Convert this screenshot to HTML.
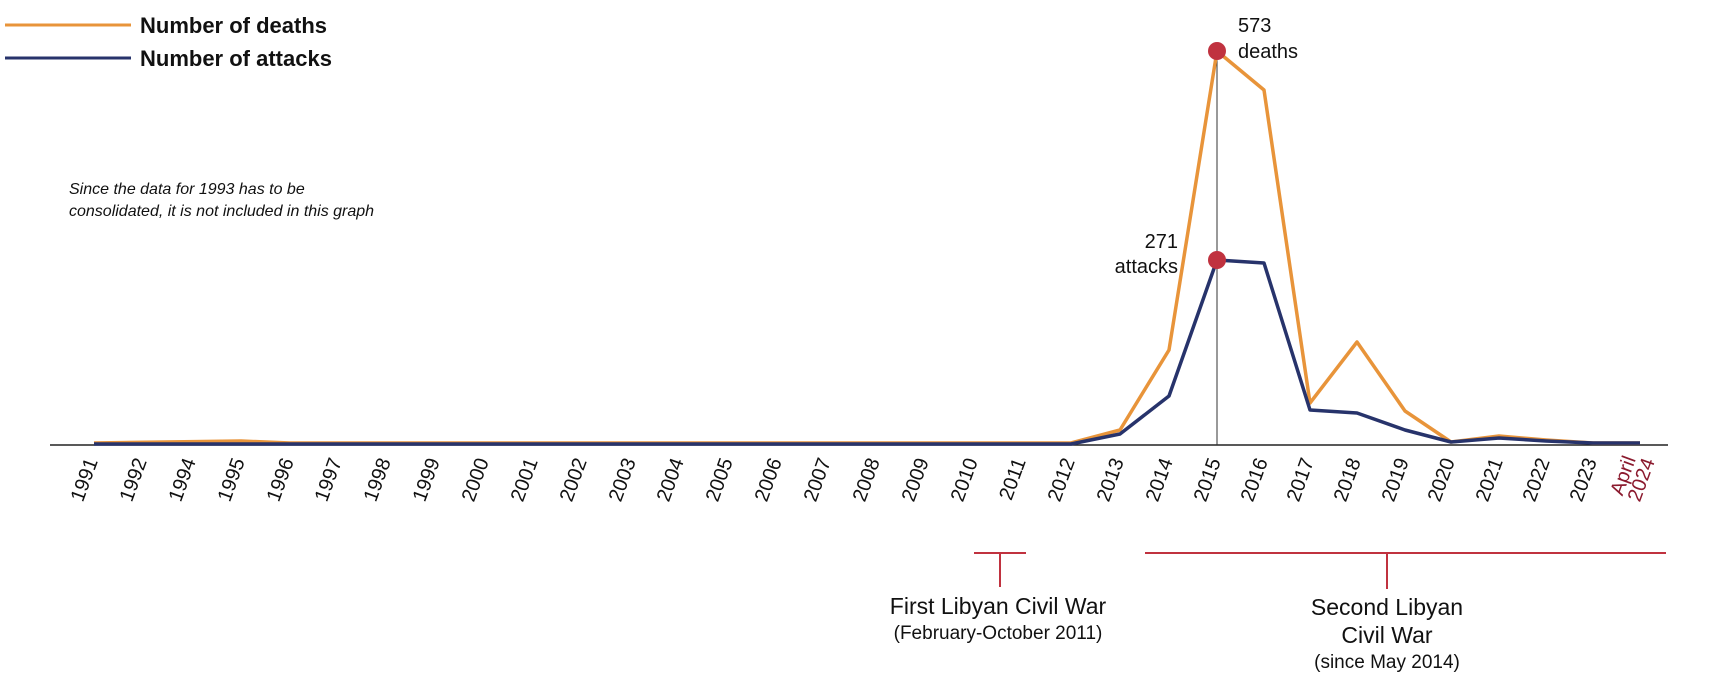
<!DOCTYPE html>
<html><head><meta charset="utf-8"><style>
html,body{margin:0;padding:0;background:#fff;}
svg{display:block;font-family:"Liberation Sans",sans-serif;}
</style></head><body>
<svg width="1710" height="690" viewBox="0 0 1710 690">
<!-- legend -->
<line x1="5" y1="25" x2="131" y2="25" stroke="#e8943a" stroke-width="3"/>
<line x1="5" y1="58" x2="131" y2="58" stroke="#27336b" stroke-width="3"/>
<text x="140" y="33" font-size="22" font-weight="bold" fill="#111">Number of deaths</text>
<text x="140" y="66" font-size="22" font-weight="bold" fill="#111">Number of attacks</text>
<text x="69" y="194" font-size="16" font-style="italic" fill="#111">Since the data for 1993 has to be</text>
<text x="69" y="216" font-size="16" font-style="italic" fill="#111">consolidated, it is not included in this graph</text>
<!-- axis -->
<line x1="50" y1="445" x2="1668" y2="445" stroke="#222" stroke-width="1.5"/>
<line x1="1217" y1="51" x2="1217" y2="445" stroke="#333" stroke-width="1"/>
<!-- series -->
<polyline fill="none" stroke="#e8943a" stroke-width="3.5" stroke-linejoin="round"
points="94,443 241,441 290,443 1071,443 1120,430 1169,350 1217,51 1264,90 1310,403 1357,342 1405,411 1451,442 1499,436 1546,440 1593,443 1640,443"/>
<polyline fill="none" stroke="#27336b" stroke-width="3.5" stroke-linejoin="round"
points="94,444 1071,444 1120,434 1169,396 1217,260 1264,263 1310,410 1357,413 1405,430 1451,442 1499,438 1546,441 1593,443 1640,443"/>
<circle cx="1217" cy="51" r="9" fill="#c0323f"/>
<circle cx="1217" cy="260" r="9" fill="#c0323f"/>
<text x="1238" y="32" font-size="20" fill="#111">573</text>
<text x="1238" y="58" font-size="20" fill="#111">deaths</text>
<text x="1178" y="248" font-size="20" fill="#111" text-anchor="end">271</text>
<text x="1178" y="273" font-size="20" fill="#111" text-anchor="end">attacks</text>
<!-- tick labels -->
<g font-size="20" fill="#111" text-anchor="end">
<text transform="translate(98,461) rotate(-70)">1991</text>
<text transform="translate(147,461) rotate(-70)">1992</text>
<text transform="translate(196,461) rotate(-70)">1994</text>
<text transform="translate(245,461) rotate(-70)">1995</text>
<text transform="translate(294,461) rotate(-70)">1996</text>
<text transform="translate(342,461) rotate(-70)">1997</text>
<text transform="translate(391,461) rotate(-70)">1998</text>
<text transform="translate(440,461) rotate(-70)">1999</text>
<text transform="translate(489,461) rotate(-70)">2000</text>
<text transform="translate(538,461) rotate(-70)">2001</text>
<text transform="translate(587,461) rotate(-70)">2002</text>
<text transform="translate(636,461) rotate(-70)">2003</text>
<text transform="translate(684,461) rotate(-70)">2004</text>
<text transform="translate(733,461) rotate(-70)">2005</text>
<text transform="translate(782,461) rotate(-70)">2006</text>
<text transform="translate(831,461) rotate(-70)">2007</text>
<text transform="translate(880,461) rotate(-70)">2008</text>
<text transform="translate(929,461) rotate(-70)">2009</text>
<text transform="translate(978,461) rotate(-70)">2010</text>
<text transform="translate(1026,461) rotate(-70)">2011</text>
<text transform="translate(1075,461) rotate(-70)">2012</text>
<text transform="translate(1124,461) rotate(-70)">2013</text>
<text transform="translate(1173,461) rotate(-70)">2014</text>
<text transform="translate(1221,461) rotate(-70)">2015</text>
<text transform="translate(1268,461) rotate(-70)">2016</text>
<text transform="translate(1314,461) rotate(-70)">2017</text>
<text transform="translate(1361,461) rotate(-70)">2018</text>
<text transform="translate(1409,461) rotate(-70)">2019</text>
<text transform="translate(1455,461) rotate(-70)">2020</text>
<text transform="translate(1503,461) rotate(-70)">2021</text>
<text transform="translate(1550,461) rotate(-70)">2022</text>
<text transform="translate(1597,461) rotate(-70)">2023</text>
<text transform="translate(1636,459) rotate(-70)" fill="#8b1a2e">April</text>
<text transform="translate(1655,461) rotate(-70)" fill="#8b1a2e">2024</text>
</g>
<!-- annotations -->
<g stroke="#c0323f" stroke-width="2">
<line x1="974" y1="553" x2="1026" y2="553"/>
<line x1="1000" y1="553" x2="1000" y2="587"/>
<line x1="1145" y1="553" x2="1666" y2="553"/>
<line x1="1387" y1="553" x2="1387" y2="589"/>
</g>
<g fill="#111" text-anchor="middle">
<text x="998" y="614" font-size="23">First Libyan Civil War</text>
<text x="998" y="639" font-size="19">(February-October 2011)</text>
<text x="1387" y="615" font-size="23">Second Libyan</text>
<text x="1387" y="643" font-size="23">Civil War</text>
<text x="1387" y="668" font-size="19">(since May 2014)</text>
</g>
</svg>
</body></html>
